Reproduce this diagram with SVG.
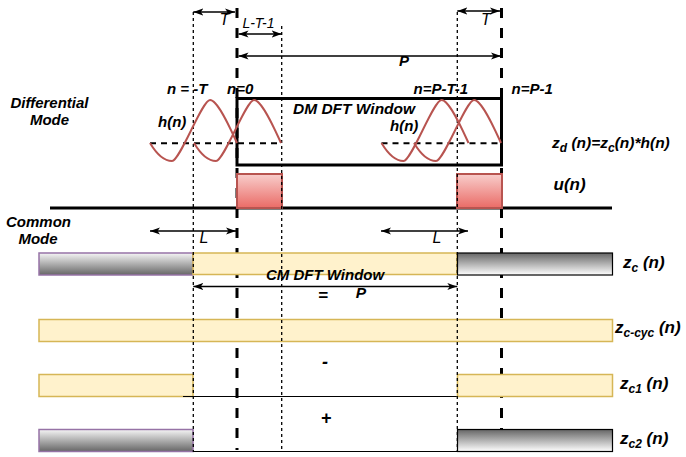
<svg xmlns="http://www.w3.org/2000/svg" width="686" height="457" viewBox="0 0 686 457">
<style>
.bi{font-family:"Liberation Sans",Arial,sans-serif;font-weight:bold;font-style:italic;font-size:15px;fill:#000}
.it{font-family:"Liberation Sans",Arial,sans-serif;font-style:italic;font-size:14px;fill:#000}
.big{font-size:17px}
.sub{font-size:12px}
.thick{stroke:#000;stroke-width:3;stroke-dasharray:10 10;fill:none}
.dot{stroke:#000;stroke-width:1.3;stroke-dasharray:3 3;fill:none}
.hdash{stroke:#000;stroke-width:2;stroke-dasharray:6 5;fill:none}
.arr{stroke:#000;stroke-width:1.5;fill:none;marker-start:url(#ah);marker-end:url(#ah)}
.wave{stroke:#b85450;stroke-width:2;fill:none}
.yel{fill:#fff2cc;stroke:#d6b656;stroke-width:1.5}
.gl{fill:url(#gDown);stroke:#9673a6;stroke-width:1.5}
.gr{fill:url(#gUp);stroke:#000;stroke-width:1.2}
.pulse{fill:url(#red);stroke:#b85450;stroke-width:2}
.thin{stroke:#000;stroke-width:1.2;fill:none}
</style>
<defs>
<marker id="ah" markerUnits="userSpaceOnUse" markerWidth="10" markerHeight="8" refX="10" refY="3.5" orient="auto-start-reverse" viewBox="0 0 10 7">
<path d="M0,0 L10,3.5 L0,7 L2.5,3.5 Z" fill="#000"/>
</marker>
<linearGradient id="red" x1="0" y1="0" x2="0" y2="1"><stop offset="0" stop-color="#f8cecc"/><stop offset="1" stop-color="#ea6b66"/></linearGradient>
<linearGradient id="gDown" x1="0" y1="0" x2="0" y2="1"><stop offset="0" stop-color="#f5f5f5"/><stop offset="1" stop-color="#666666"/></linearGradient>
<linearGradient id="gUp" x1="0" y1="0" x2="0" y2="1"><stop offset="0" stop-color="#666666"/><stop offset="1" stop-color="#ffffff"/></linearGradient>
</defs>
<rect width="686" height="457" fill="#fff"/>

<g id="guides-thick">
<line class="thick" x1="237" y1="8" x2="237" y2="450"/>
<line class="thick" x1="501.5" y1="8" x2="501.5" y2="430"/>
</g>

<g id="dm-window">
<rect x="237" y="98.5" width="264.5" height="66.5" fill="none" stroke="#000" stroke-width="3"/>
</g>

<g id="u-signal">
<line x1="50" y1="208" x2="612" y2="208" stroke="#000" stroke-width="3"/>
<rect class="pulse" x="237" y="174" width="45" height="34"/>
<rect class="pulse" x="457" y="174" width="45" height="34"/>
</g>

<g id="zc">
<rect class="gl" x="39" y="253" width="154" height="22"/>
<rect class="yel" x="193" y="253" width="264" height="21.5"/>
<rect class="gr" x="457.5" y="253" width="155" height="22"/>
</g>
<g id="zc-cyc">
<rect class="yel" x="39" y="319.5" width="573.5" height="22"/>
</g>
<g id="zc1">
<rect class="yel" x="39" y="374.5" width="154" height="22"/>
<line class="thin" x1="183" y1="396.5" x2="457.5" y2="396.5"/>
<rect class="yel" x="457.5" y="374.5" width="155" height="22"/>
</g>
<g id="zc2">
<rect class="gl" x="39" y="429.5" width="154" height="22"/>
<line class="thin" x1="193" y1="451.5" x2="457.5" y2="451.5"/>
<rect class="gr" x="457.5" y="429.5" width="155" height="22"/>
</g>

<g id="guides-dotted">
<line class="dot" x1="193.3" y1="12" x2="193.3" y2="452"/>
<line class="dot" x1="281.7" y1="26" x2="281.7" y2="452"/>
<line class="dot" x1="457.3" y1="12" x2="457.3" y2="452"/>
</g>

<g id="h-waves">
<line class="hdash" x1="150" y1="143.3" x2="282" y2="143.3"/>
<line class="hdash" x1="381.5" y1="143.3" x2="502" y2="143.3"/>
<path class="wave" d="M150,143 C156,153 164,161 172,161 C180,161 202,100 210,100 C218,100 231,130 237,143"/>
<path class="wave" d="M194,143 C200,153 208,161 216,161 C224,161 246,100 254,100 C262,100 275,130 281,143"/>
<path class="wave" d="M381.5,143 C387.5,153 395.5,161 403.5,161 C411.5,161 433.5,100 441.5,100 C449.5,100 462.5,130 468.5,143"/>
<path class="wave" d="M414,143 C420,153 428,161 436,161 C444,161 466,100 474,100 C482,100 495,130 501,143"/>
</g>

<g id="connectors">
<line class="arr" x1="193.3" y1="12" x2="235" y2="12"/>
<line class="arr" x1="238.5" y1="34" x2="281.7" y2="34"/>
<line class="arr" x1="238.5" y1="56" x2="501" y2="56"/>
<line class="arr" x1="457.3" y1="11" x2="500" y2="11"/>
<line class="arr" x1="150" y1="231" x2="236" y2="231"/>
<line class="arr" x1="381" y1="231" x2="468" y2="231"/>
<line class="arr" x1="193.3" y1="286.5" x2="457.3" y2="286.5"/>
</g>

<g id="labels">
<text class="it" x="224.5" y="25" text-anchor="middle" style="font-size:16px">T</text>
<text class="it" x="258.5" y="28" text-anchor="middle">L-T-1</text>
<text class="bi" x="404" y="66" text-anchor="middle">P</text>
<text class="it" x="486" y="25" text-anchor="middle" style="font-size:16px">T</text>
<text class="bi" x="49.5" y="108" text-anchor="middle">Differential</text>
<text class="bi" x="49.5" y="125" text-anchor="middle">Mode</text>
<text class="bi" x="167" y="94">n = -T</text>
<text class="bi" x="227" y="94">n=0</text>
<text class="bi" x="413.5" y="94">n=P-T-1</text>
<text class="bi" x="511.5" y="94">n=P-1</text>
<text class="bi" x="293" y="114" style="font-size:15.5px">DM DFT Window</text>
<text class="bi" x="158" y="127">h(n)</text>
<text class="bi" x="390" y="131">h(n)</text>
<text class="bi" x="552" y="148" style="font-size:15.5px">z<tspan class="sub" dy="4">d</tspan><tspan dy="-4"> (n)=z</tspan><tspan class="sub" dy="4">c</tspan><tspan dy="-4">(n)*h(n)</tspan></text>
<text class="bi big" x="553.5" y="190">u(n)</text>
<text class="bi" x="38.5" y="227" text-anchor="middle">Common</text>
<text class="bi" x="38" y="244" text-anchor="middle">Mode</text>
<text class="it" x="204" y="243" text-anchor="middle" style="font-size:16px">L</text>
<text class="it" x="437" y="243" text-anchor="middle" style="font-size:16px">L</text>
<text class="bi big" x="623" y="268">z<tspan class="sub" dy="4">c</tspan><tspan dy="-4"> (n)</tspan></text>
<text class="bi" x="266" y="280">CM DFT Window</text>
<text class="bi" x="323" y="301" text-anchor="middle" style="font-size:17px">=</text>
<text class="bi" x="361" y="298" text-anchor="middle" style="font-size:15.5px">P</text>
<text class="bi big" x="615" y="333">z<tspan class="sub" dy="4">c-cyc</tspan><tspan dy="-4"> (n)</tspan></text>
<text class="bi" x="325" y="368" text-anchor="middle" style="font-size:18px">-</text>
<text class="bi big" x="620" y="389">z<tspan class="sub" dy="4">c1</tspan><tspan dy="-4"> (n)</tspan></text>
<text class="bi" x="326" y="424" text-anchor="middle" style="font-size:18px">+</text>
<text class="bi big" x="620" y="444">z<tspan class="sub" dy="4">c2</tspan><tspan dy="-4"> (n)</tspan></text>
</g>
</svg>
